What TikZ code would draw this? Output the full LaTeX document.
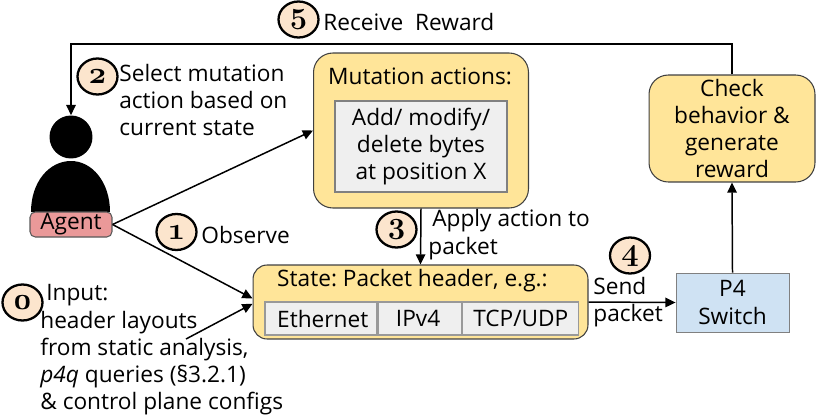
\documentclass[tikz,border=0pt]{standalone}
\usepackage{fontspec}
\setmainfont{Open Sans}
\newfontfamily\stepfont[Numbers=OldStyle]{Latin Modern Roman}
\usetikzlibrary{arrows.meta,positioning,shapes.geometric}

\definecolor{boxyellow}{HTML}{FFE599}
\definecolor{cellgrey}{HTML}{EFEFEF}
\definecolor{agentred}{HTML}{EA9999}
\definecolor{switchblue}{HTML}{CFE2F3}
\definecolor{stepskin}{HTML}{FCE5CD}

\begin{document}
\begin{tikzpicture}[x=0.02cm, y=-0.02cm, font=\frenchspacing\fontsize{12.9}{15.5}\selectfont]

% Define styles
\tikzstyle{panel} = [rectangle, draw=black!75, fill=boxyellow, line width=0.6pt, inner sep=0pt, align=center]
\tikzstyle{cell} = [rectangle, draw=black!40, fill=cellgrey, line width=0.8pt, inner sep=0pt, minimum height=0.66cm, align=center]
\tikzstyle{stepmark} = [ellipse, draw=black, fill=stepskin, line width=1.3pt, minimum width=0.8cm, minimum height=0.72cm, inner sep=0pt, font=\stepfont\bfseries\fontsize{17.5}{17.5}\selectfont]
\tikzstyle{note} = [anchor=west, inner sep=0pt, align=left]
\tikzstyle{arrow} = [line width=0.85pt, -{Triangle[length=5.8pt, width=5.4pt]}, draw=black]

\useasboundingbox (0,0) rectangle (817,419);

% Agent
\node (head) [circle, fill=black, minimum size=0.86cm, inner sep=0pt] at (71,137) {};
\fill (31,212) .. controls (31,182) and (49,161) .. (71,161) .. controls (92,161) and (110,182) .. (110,212) -- cycle;
\node (agent) [rectangle, rounded corners=3pt, draw=black!65, fill=agentred, line width=0.6pt, minimum width=1.64cm, minimum height=0.5cm, inner sep=0pt] at (71,224.5) {Agent};

% Mutation actions
\node (mutation) [panel, rounded corners=11pt, minimum width=4.3cm, minimum height=3.1cm] at (421,130.5) {};
\node (mutation_title) [inner sep=0pt] at (420,76) {Mutation actions:};
\node (mutation_list) [rectangle, draw=black!50, fill=cellgrey, line width=0.6pt, minimum width=3.44cm, minimum height=1.82cm, inner sep=0pt, align=center] at (421,146.5) {Add/ modify/\\delete bytes\\at position X};

% State with its header fields
\node (state) [panel, rounded corners=8pt, minimum width=6.7cm, minimum height=1.48cm] at (420.5,302) {};
\node (state_title) [inner sep=0pt] at (412.5,281) {State: Packet header, e.g.:};
\node (cell_eth) [cell, minimum width=2.24cm] at (321,318.5) {\hspace{2pt}Ethernet};
\node (cell_ip) [cell, minimum width=1.66cm, right=0pt of cell_eth] {IPv4\hspace{2pt}};
\node (cell_tcp) [cell, minimum width=2.32cm, right=0pt of cell_ip] {TCP/UDP};

% Switch and reward check
\node (switch) [rectangle, draw=black!50, fill=switchblue, line width=0.5pt, minimum width=2.26cm, minimum height=1.18cm, inner sep=0pt, align=center] at (732.5,302.5) {P4\\Switch};
\node (check) [panel, rounded corners=11pt, minimum width=3.32cm, minimum height=2.14cm] at (732,128.5) {Check\\behavior \&\\generate\\reward};

% Numbered steps
\node (step0) [stepmark] at (22.5,302.5) {0};
\node (step1) [stepmark] at (176.5,232) {1};
\node (step2) [stepmark] at (97.5,76.5) {2};
\node (step3) [stepmark] at (396.5,229.5) {3};
\node (step4) [stepmark] at (630,255.5) {4};
\node (step5) [stepmark] at (298.5,19.5) {5};

% Step labels
\node (receive_text) [note] at (323,22) {Receive\ \ Reward};
\node (select_text) [note] at (119,100) {Select mutation\\action based on\\current state};
\node (observe_text) [note] at (201,235) {Observe};
\node (input_text) [note] at (46,295) {Input:};
\node (source_text) [note] at (40,363) {header layouts\\from static analysis,\\\textit{p4q} queries (§3.2.1)\\\& control plane configs};
\node (apply_text) [note] at (432,221) {Apply action to};
\node (packet_text) [note] at (428,249) {packet};
\node (send_text) [note] at (593,302) {Send\\packet};

% Connections
\coordinate (reward_turn) at (71,44);
\coordinate (input_start) at (186,339);
\draw [arrow] (check.north) |- (reward_turn) -- (head.north);
\draw [arrow] (agent.east) -- (mutation.west);
\draw [arrow] (agent.east) -- ([yshift=2pt]state.west);
\draw [arrow] (input_start) -- ([yshift=-1pt]state.west);
\draw [arrow] (mutation.south) -- (state.north);
\draw [arrow] (state.east) -- (switch.west);
\draw [arrow] (switch.north) -- (check.south);

\end{tikzpicture}
\end{document}
